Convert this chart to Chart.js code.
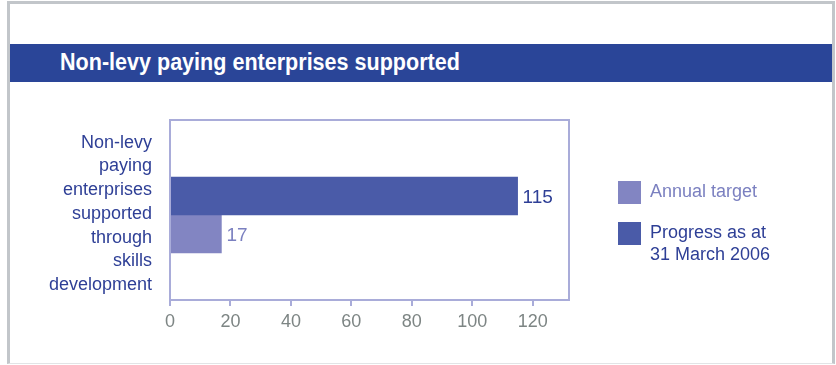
<!DOCTYPE html>
<html>
<head>
<meta charset="utf-8">
<script src="https://cdn.jsdelivr.net/npm/chart.js@4.4.1/dist/chart.umd.min.js"></script>
<style>
  body { margin: 0; background: #fff; width: 836px; height: 365px; overflow: hidden; position: relative; }
  #frame { position: absolute; left: 7px; top: 1px; width: 828px; height: 363px; border-left: 3px solid #c2c6ca; border-top: 3px solid #c2c6ca; border-right: 3px solid #c2c6ca; border-bottom: 1px solid #e2e4e6; box-sizing: border-box; }
  #band { position: absolute; left: 10px; top: 44px; width: 822px; height: 38px; background: #2a4598; }
  #band span { position: absolute; left: 50px; top: 5px; color: #fff; white-space: nowrap; transform-origin: 0 0; font: bold 23px "Liberation Sans", Arial, sans-serif; }
  #chart { position: absolute; left: 0; top: 0; }
  .leg { position: absolute; font: 18px "Liberation Sans", Arial, sans-serif; line-height: 22px; white-space: nowrap; }
  .leg i { position: absolute; left: -32px; top: 1px; width: 23px; height: 23px; }
</style>
</head>
<body>
<div id="frame"></div>
<div id="band"><span id="title">Non-levy paying enterprises supported</span></div>
<canvas id="chart" width="836" height="365"></canvas>
<div class="leg" style="left:650px; top:180px; color:#7b80c0;"><i style="background:#8285c2"></i>Annual target</div>
<div class="leg" style="left:650px; top:221px; color:#2e3f96;"><i style="background:#4a5ba8"></i>Progress as at<br>31 March 2006</div>
<script>
var categories = [["Non-levy", "paying", "enterprises", "supported", "through", "skills", "development"]];
var progress = [115];
var annualTarget = [17];
var seriesNames = ["Progress as at 31 March 2006", "Annual target"];
var tickValues = [0, 20, 40, 60, 80, 100, 120];

var darkBlue = "#4a5ba8";
var lightBlue = "#8285c2";
var frameColor = "#a9acd9";
var frameTopGap = 10; // plot frame starts a bit above the bar band in the original

// squeeze the title to the condensed width of the original
var title = document.getElementById("title");
title.style.transform = "scaleX(" + (400 / title.offsetWidth) + ")";

var boxPlugin = {
    id: "boxPlugin",
    afterDraw: function (chart) {
        var ctx = chart.ctx;
        var a = chart.chartArea;
        ctx.save();
        ctx.strokeStyle = frameColor;
        ctx.lineWidth = 2;
        ctx.strokeRect(a.left, a.top - frameTopGap, a.right - a.left, a.bottom - a.top + frameTopGap);
        ctx.restore();
    }
};

var valuePlugin = {
    id: "valuePlugin",
    afterDatasetsDraw: function (chart) {
        var ctx = chart.ctx;
        var colors = ["#2e3f96", "#7b80c0"];
        ctx.save();
        ctx.font = '19px "Liberation Sans", Arial, sans-serif';
        ctx.textBaseline = "middle";
        ctx.textAlign = "left";
        chart.data.datasets.forEach(function (ds, i) {
            chart.getDatasetMeta(i).data.forEach(function (bar, j) {
                ctx.fillStyle = colors[i];
                ctx.fillText(ds.data[j], bar.x + 5, bar.y + 2);
            });
        });
        ctx.restore();
    }
};

var chart = new Chart(document.getElementById("chart").getContext("2d"), {
    type: "bar",
    data: {
        labels: categories,
        datasets: [
            { label: seriesNames[0], data: progress, backgroundColor: darkBlue, barThickness: 38 },
            { label: seriesNames[1], data: annualTarget, backgroundColor: lightBlue, barThickness: 38 }
        ]
    },
    options: {
        indexAxis: "y",
        responsive: false,
        animation: false,
        layout: { padding: { top: 120 + frameTopGap, right: 267, bottom: 15, left: 0 } },
        plugins: {
            legend: { display: false },
            tooltip: { enabled: false }
        },
        scales: {
            x: {
                min: 0,
                max: 132,
                afterBuildTicks: function (scale) {
                    scale.ticks = tickValues.map(function (v) { return { value: v }; });
                },
                afterFit: function (scale) { scale.height = 50; },
                grid: { drawOnChartArea: false, drawTicks: true, tickLength: 6, color: frameColor, lineWidth: 2 },
                border: { color: frameColor, width: 2 },
                ticks: { color: "#7d8584", padding: 5, font: { size: 18, family: '"Liberation Sans", Arial, sans-serif' } }
            },
            y: {
                afterFit: function (scale) {
                    scale.width = 170;
                    scale.paddingTop = 0;
                    scale.paddingBottom = 0;
                },
                grid: { display: false },
                border: { display: false },
                ticks: { color: "#2e3f96", padding: 10, labelOffset: -1, font: { size: 18, lineHeight: 1.32, family: '"Liberation Sans", Arial, sans-serif' } }
            }
        }
    },
    plugins: [boxPlugin, valuePlugin]
});
</script>
</body>
</html>
